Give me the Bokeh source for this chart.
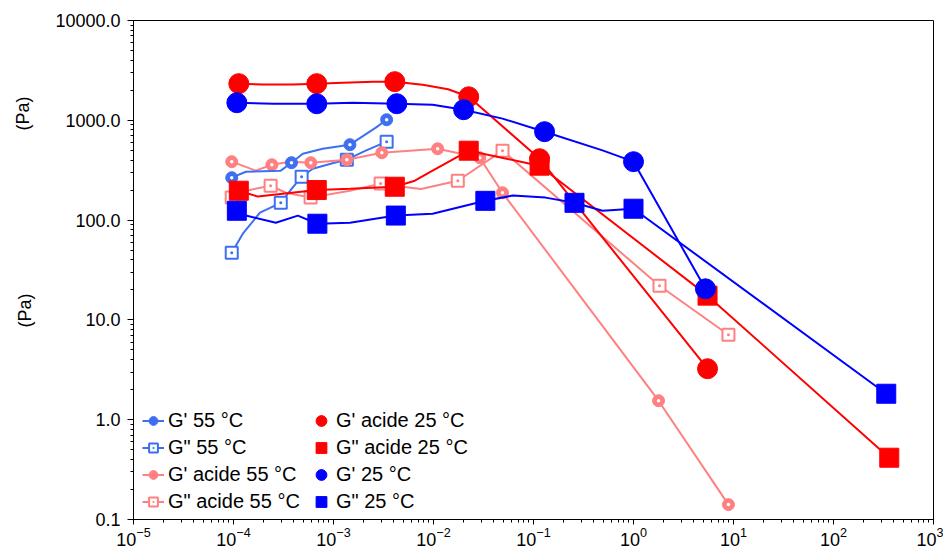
import math
from bokeh.plotting import figure
from bokeh.models import (LogTicker, PrintfTickFormatter, Legend,
                          LegendItem, Label, Range1d)
from bokeh.embed import file_html
from bokeh.resources import INLINE

# ---------------- data ----------------
# G' 55 °C
g1_55_x = [9.6e-5, 3.8e-4, 1.46e-3, 3.4e-3]
g1_55_y = [266, 376, 570, 1014]
g1_55_lx = [9.6e-5, 1.33e-4, 2.97e-4, 3.8e-4, 4.93e-4, 7.8e-4, 1.46e-3, 2.65e-3, 3.4e-3]
g1_55_ly = [266, 305, 313, 376, 463, 519, 570, 844, 1014]

# G" 55 °C
g2_55_x = [9.6e-5, 2.97e-4, 4.8e-4, 1.36e-3, 3.4e-3]
g2_55_y = [47, 149, 272, 403, 611]
g2_55_lx = [9.6e-5, 1.24e-4, 1.84e-4, 2.97e-4, 3.9e-4, 4.8e-4, 6.2e-4, 1.02e-3, 1.36e-3, 2.1e-3, 3.4e-3]
g2_55_ly = [47, 73, 119, 149, 211, 272, 327, 376, 403, 496, 611]

# G' acide 55 °C
g1a_55_x = [9.6e-5, 2.42e-4, 5.93e-4, 1.36e-3, 3.04e-3, 0.011, 0.029, 0.049, 1.78, 8.9]
g1a_55_y = [385, 359, 376, 403, 473, 519, 422, 188, 1.55, 0.141]
g1a_55_lx = [9.6e-5, 1.67e-4, 2.42e-4, 3.66e-4, 5.93e-4, 1.36e-3, 3.04e-3, 0.011, 0.029, 0.049, 1.78, 8.9]
g1a_55_ly = [385, 313, 359, 385, 376, 403, 473, 519, 422, 188, 1.55, 0.141]

# G" acide 55 °C
g2a_55_x = [9.6e-5, 2.35e-4, 5.9e-4, 2.96e-3, 0.0175, 0.049, 1.82, 8.9]
g2a_55_y = [168, 221, 168, 232, 248, 496, 22, 7.1]
g2a_55_lx = [9.6e-5, 1.33e-4, 2.35e-4, 3.34e-4, 5.9e-4, 1.46e-3, 2.96e-3, 4.9e-3, 7.5e-3, 0.0175, 0.049, 1.82, 8.9]
g2a_55_ly = [168, 197, 221, 188, 168, 197, 232, 216, 205, 248, 496, 22, 7.1]

# G' acide 25 °C
g1a_25_x = [1.13e-4, 6.8e-4, 4.1e-3, 0.0225, 0.115, 5.5]
g1a_25_y = [2330, 2330, 2440, 1720, 412, 3.24]
g1a_25_lx = [1.13e-4, 2.0e-4, 3.9e-4, 6.8e-4, 1.24e-3, 2.5e-3, 4.1e-3, 7.8e-3, 0.014, 0.0225, 0.115, 5.5]
g1a_25_ly = [2330, 2280, 2280, 2330, 2380, 2440, 2440, 2270, 2050, 1720, 412, 3.24]

# G" acide 25 °C
g2a_25_x = [1.13e-4, 6.8e-4, 4.1e-3, 0.0225, 0.115, 5.5, 361]
g2a_25_y = [197, 200, 216, 496, 351, 17.5, 0.416]
g2a_25_lx = [1.13e-4, 1.75e-4, 6.8e-4, 1.46e-3, 4.1e-3, 6.5e-3, 9.8e-3, 0.0225, 0.115, 5.5, 361]
g2a_25_ly = [197, 172, 200, 206, 216, 248, 313, 496, 351, 17.5, 0.416]

# G' 25 °C
g1_25_x = [1.08e-4, 6.8e-4, 4.3e-3, 0.02, 0.129, 1.0, 5.24]
g1_25_y = [1500, 1466, 1466, 1277, 769, 385, 20.5]
g1_25_lx = [1.08e-4, 2.5e-4, 6.8e-4, 1.56e-3, 4.3e-3, 9.8e-3, 0.02, 0.049, 0.129, 0.49, 1.0, 5.24]
g1_25_ly = [1500, 1466, 1466, 1500, 1466, 1432, 1277, 1040, 769, 500, 385, 20.5]

# G" 25 °C
g2_25_x = [1.08e-4, 6.9e-4, 4.2e-3, 0.033, 0.257, 1.0, 337]
g2_25_y = [124, 92, 111, 156, 149, 130, 1.82]
g2_25_lx = [1.08e-4, 1.33e-4, 2.65e-4, 4.4e-4, 6.9e-4, 1.46e-3, 4.2e-3, 9.8e-3, 0.033, 0.062, 0.132, 0.257, 0.49, 1.0, 337]
g2_25_ly = [124, 111, 94, 111, 92, 94, 111, 116, 156, 176, 168, 149, 124, 130, 1.82]

labels = ["G' 55 °C", 'G" 55 °C', "G' acide 55 °C", 'G" acide 55 °C',
          "G' acide 25 °C", 'G" acide 25 °C', "G' 25 °C", 'G" 25 °C']
y_title = "(Pa)"

LIGHTBLUE = "#3d6ff0"
PINK = "#ff8080"
RED = "#ff0000"
BLUE = "#0000ff"
FONT = "Liberation Sans"

p = figure(width=943, height=548, x_axis_type="log", y_axis_type="log",
           x_range=Range1d(1e-5, 1e3), y_range=Range1d(0.1, 1e4),
           output_backend="svg", toolbar_location=None,
           min_border_left=133, min_border_right=10, min_border_top=20,
           min_border_bottom=27)
p.grid.visible = False
p.outline_line_color = "black"
p.outline_line_width = 1

for ax in (p.xaxis[0], p.yaxis[0]):
    ax.ticker = LogTicker(num_minor_ticks=10)
    ax.axis_line_color = "black"
    ax.major_tick_line_color = "black"
    ax.minor_tick_line_color = "black"
    ax.major_tick_in = 0
    ax.major_tick_out = 6
    ax.minor_tick_in = 0
    ax.minor_tick_out = 3
    ax.major_label_text_font = FONT
    ax.major_label_text_font_size = "18px"
    ax.major_label_text_color = "black"
p.yaxis[0].formatter = PrintfTickFormatter(format="%.1f")
p.yaxis[0].major_label_standoff = 7
p.xaxis[0].major_tick_out = 5
p.xaxis[0].major_label_standoff = 2


def series(lx, ly, mx, my, color, marker, size, fill, lw=2, mlw=1, dot=False):
    l = p.line(lx, ly, line_color=color, line_width=lw)
    s = p.scatter(mx, my, marker=marker, size=size, line_color=color,
                  fill_color=fill, line_width=mlw)
    if dot:
        p.scatter(mx, my, marker="circle", size=3.5, fill_color="white", line_color=None)
    return l, s

r_g2_55 = series(g2_55_lx, g2_55_ly, g2_55_x, g2_55_y, LIGHTBLUE, "square_dot", 12, "white", mlw=2)
r_g2a_55 = series(g2a_55_lx, g2a_55_ly, g2a_55_x, g2a_55_y, PINK, "square_dot", 12, "white", mlw=2)
r_g1a_55 = series(g1a_55_lx, g1a_55_ly, g1a_55_x, g1a_55_y, PINK, "circle", 12, PINK, dot=True)
r_g1_55 = series(g1_55_lx, g1_55_ly, g1_55_x, g1_55_y, LIGHTBLUE, "circle", 12, LIGHTBLUE, dot=True)
r_g2a_25 = series(g2a_25_lx, g2a_25_ly, g2a_25_x, g2a_25_y, RED, "square", 19, RED)
r_g1a_25 = series(g1a_25_lx, g1a_25_ly, g1a_25_x, g1a_25_y, RED, "circle", 20, RED)
r_g2_25 = series(g2_25_lx, g2_25_ly, g2_25_x, g2_25_y, BLUE, "square", 19, BLUE)
r_g1_25 = series(g1_25_lx, g1_25_ly, g1_25_x, g1_25_y, BLUE, "circle", 20, BLUE)

common = dict(orientation="vertical", padding=0, margin=0, border_line_color=None,
              background_fill_alpha=0, label_text_font=FONT, label_text_font_size="20px",
              label_text_color="black", glyph_height=27, label_height=27, spacing=0)

leg1 = Legend(items=[LegendItem(label=labels[0], renderers=list(r_g1_55)),
                     LegendItem(label=labels[1], renderers=list(r_g2_55)),
                     LegendItem(label=labels[2], renderers=list(r_g1a_55)),
                     LegendItem(label=labels[3], renderers=list(r_g2a_55))],
              location=(9, 4), glyph_width=22, label_standoff=4, **common)
leg2 = Legend(items=[LegendItem(label=labels[4], renderers=[r_g1a_25[1]]),
                     LegendItem(label=labels[5], renderers=[r_g2a_25[1]]),
                     LegendItem(label=labels[6], renderers=[r_g1_25[1]]),
                     LegendItem(label=labels[7], renderers=[r_g2_25[1]])],
              location=(174, 4), glyph_width=28, label_standoff=1, **common)
p.add_layout(leg1)
p.add_layout(leg2)

for xx, yy in ((-10, 406), (12, 209)):
    p.add_layout(Label(x=xx, y=yy, x_units="screen", y_units="screen", text=y_title,
                       angle=math.pi / 2, text_align="center", text_baseline="middle",
                       text_font=FONT, text_font_size="18px", text_color="black"), "left")

open("out.html", "w").write(file_html(p, INLINE))
